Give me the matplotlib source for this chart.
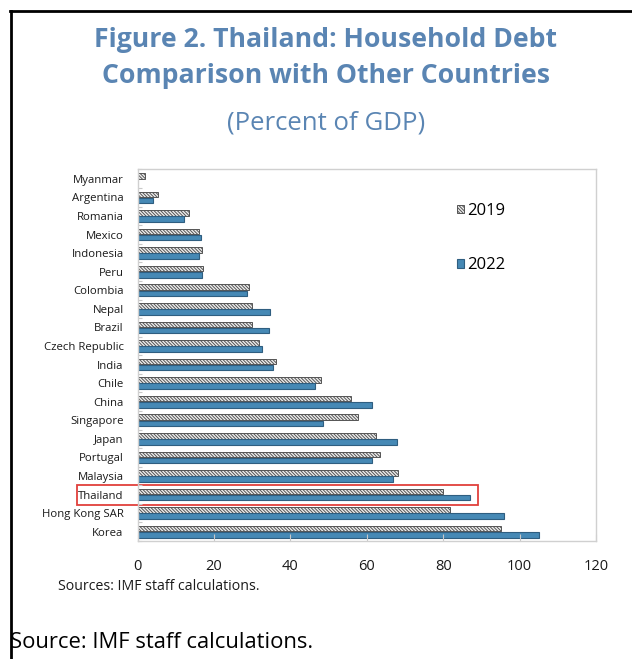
import matplotlib
matplotlib.use("Agg")
import matplotlib.pyplot as plt
import numpy as np
from matplotlib.patches import Rectangle
from matplotlib.lines import Line2D

plt.rcParams['font.family'] = ['Open Sans', 'DejaVu Sans']
plt.rcParams['hatch.linewidth'] = 0.7

countries = ["Myanmar", "Argentina", "Romania", "Mexico", "Indonesia", "Peru",
             "Colombia", "Nepal", "Brazil", "Czech Republic", "India", "Chile",
             "China", "Singapore", "Japan", "Portugal", "Malaysia", "Thailand",
             "Hong Kong SAR", "Korea"]
debt_2019 = [2.0, 5.3, 13.5, 16.2, 17.0, 17.2, 29.2, 29.9, 30.0, 31.7, 36.3, 48.1,
             56.0, 57.8, 62.5, 63.5, 68.2, 79.9, 81.7, 95.1]
debt_2022 = [np.nan, 4.1, 12.2, 16.6, 16.2, 16.8, 28.6, 34.8, 34.5, 32.7, 35.5, 46.5,
             61.4, 48.6, 68.0, 61.5, 66.8, 86.9, 95.8, 105.1]
series_labels = ["2019", "2022"]
x_ticks = [0, 20, 40, 60, 80, 100, 120]
highlight = "Thailand"

W, H = 632, 659
fig = plt.figure(figsize=(W / 100, H / 100), dpi=100)
ax = fig.add_axes([137.5 / W, 1 - 541 / H, (596 - 137.5) / W, (541 - 169.5) / H])

y = np.arange(len(countries))
bh = 0.30
off = 0.165
b1 = ax.barh(y - off, debt_2019, height=bh, facecolor='#eeeeee', edgecolor='#555555',
             hatch='\\\\\\\\\\\\\\\\\\\\', linewidth=0.7, label=series_labels[0])
b2 = ax.barh(y + off, debt_2022, height=bh, facecolor='#4689B5', edgecolor='#2F5E80',
             linewidth=0.8, label=series_labels[1])

ax.set_ylim(len(countries) - 0.5, -0.5)
ax.set_xlim(x_ticks[0], x_ticks[-1])
ax.set_xticks(x_ticks)
ax.set_xticklabels([str(t) for t in x_ticks], fontsize=10.5)
ax.set_yticks(y)
ax.set_yticklabels(countries, fontsize=8.2)
ax.set_yticks(np.arange(len(countries) + 1) - 0.5, minor=True)
ax.tick_params(axis='y', which='major', length=0, pad=10, colors='#1a1a1a')
ax.tick_params(axis='y', which='minor', direction='in', length=3, color='#c8c8c8', width=0.8)
ax.tick_params(axis='x', direction='in', length=5, color='#c8c8c8', width=0.8, pad=13,
               labelcolor='#1a1a1a')
for s in ax.spines.values():
    s.set_color('#d0d0d0')
    s.set_linewidth(1.0)

# highlight box around Thailand
hi = countries.index(highlight)
rect = Rectangle((-0.132, hi - 0.54), 0.743 + 0.132, 1.08,
                 transform=ax.get_yaxis_transform(), fill=False,
                 edgecolor='#E0403C', linewidth=1.3, clip_on=False)
ax.add_patch(rect)

leg = fig.legend(handles=[b1, b2], labels=series_labels, loc='upper left',
                 bbox_to_anchor=(457 / W, 1 - 203 / H), frameon=False, fontsize=12,
                 handlelength=0.4, handleheight=0.4, handletextpad=0.2,
                 labelspacing=2.3, borderpad=0, borderaxespad=0)

# titles
cx = 326 / W
title_color = '#5A85B3'
fig.text(cx, 1 - 40 / H, "Figure 2. Thailand: Household Debt", ha='center', va='center',
         fontsize=19.2, fontweight='bold', color=title_color)
fig.text(cx, 1 - 76 / H, "Comparison with Other Countries", ha='center', va='center',
         fontsize=19.2, fontweight='bold', color=title_color)
fig.text(cx, 1 - 123 / H, "(Percent of GDP)", ha='center', va='center',
         fontsize=18.5, color=title_color)

fig.text(58 / W, 1 - 586 / H, "Sources: IMF staff calculations.", ha='left', va='center',
         fontsize=10.2, color='#1a1a1a')
fig.text(10 / W, 1 - 643 / H, "Source: IMF staff calculations.", ha='left', va='center',
         fontsize=15.8, color='black')

# outer frame (left and top edges)
fig.add_artist(Line2D([11 / W, 11 / W], [0, 1 - 10.5 / H], transform=fig.transFigure,
                      color='black', linewidth=2))
fig.add_artist(Line2D([10 / W, 1], [1 - 10.5 / H, 1 - 10.5 / H], transform=fig.transFigure,
                      color='black', linewidth=2))

fig.savefig("out.png", dpi=100, facecolor='white')
